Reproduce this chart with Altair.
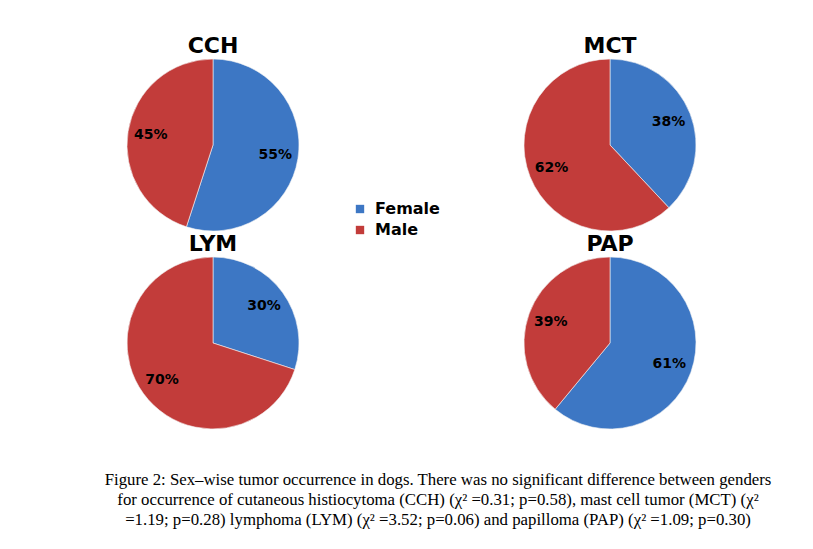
import altair as alt
import pandas as pd

# ---- data ----
tumors = ["CCH", "MCT", "LYM", "PAP"]
female_pct = [55, 38, 30, 61]
male_pct = [45, 62, 70, 39]
panel_col = ["left", "right", "left", "right"]
panel_row = ["top", "top", "bottom", "bottom"]
sexes = ["Female", "Male"]
sex_colors = ["#3d77c4", "#c23c3a"]
caption_lines = [
    "Figure 2: Sex\u2013wise tumor occurrence in dogs. There was no significant difference between genders",
    "for occurrence of cutaneous histiocytoma (CCH) (\u03c7\u00b2 =0.31; p=0.58), mast cell tumor (MCT) (\u03c7\u00b2",
    "=1.19; p=0.28) lymphoma (LYM) (\u03c7\u00b2 =3.52; p=0.06) and papilloma (PAP) (\u03c7\u00b2 =1.09; p=0.30)",
]

recs = []
for t, f, m, c, r in zip(tumors, female_pct, male_pct, panel_col, panel_row):
    recs.append(dict(tumor=t, sex=sexes[0], value=f, col=c, row=r))
    recs.append(dict(tumor=t, sex=sexes[1], value=m, col=c, row=r))
df = pd.DataFrame(recs)
titles_df = pd.DataFrame(dict(tumor=tumors, col=panel_col, row=panel_row))

X = alt.X("col:N", scale=alt.Scale(domain=["left", "right"], range=[205, 602], padding=0), axis=None)
Y = alt.Y("row:N", scale=alt.Scale(domain=["top", "bottom"], range=[137, 335], padding=0), axis=None)

base = (
    alt.Chart(df)
    .transform_window(end="sum(value)", groupby=["tumor"], sort=[alt.SortField("sex")], frame=[None, 0])
    .transform_calculate(start="datum.end - datum.value")
    .transform_calculate(mid="(datum.start + datum.end) / 2", label="datum.value + '%'")
)

arcs = base.mark_arc(radius=86, stroke="#f4f4f4", strokeWidth=0.6).encode(
    x=X,
    y=Y,
    theta=alt.Theta("start:Q", scale=alt.Scale(domain=[0, 100]), stack=None),
    theta2="end:Q",
    color=alt.Color(
        "sex:N",
        scale=alt.Scale(domain=sexes, range=sex_colors),
        legend=alt.Legend(
            title=None,
            orient="none",
            legendX=344,
            legendY=193,
            labelFont="DejaVu Sans",
            labelFontSize=16,
            labelFontWeight="bold",
            labelColor="black",
            symbolType="square",
            symbolSize=70,
            symbolStrokeWidth=0,
            rowPadding=5,
            labelOffset=7,
            padding=0,
        ),
    ),
)

labels = base.mark_text(
    radius=63, font="DejaVu Sans", fontWeight="bold", fontSize=14, color="black"
).encode(
    x=X,
    y=Y,
    theta=alt.Theta("mid:Q", scale=alt.Scale(domain=[0, 100]), stack=None),
    text="label:N",
)

titles = alt.Chart(titles_df).mark_text(
    dy=-99, font="DejaVu Sans", fontWeight="bold", fontSize=22, color="black"
).encode(x=X, y=Y, text="tumor:N")

caption = alt.Chart(alt.Data(values=[{}])).mark_text(
    text=caption_lines,
    font="Liberation Serif",
    fontSize=16.8,
    lineHeight=20,
    align="center",
    baseline="alphabetic",
    color="black",
).encode(x=alt.value(430), y=alt.value(477))

chart = (
    alt.layer(arcs, labels, titles, caption)
    .properties(width=797, height=533, autosize=alt.AutoSizeParams(type="none"), padding=0)
    .configure_view(stroke=None)
)

chart.save("out.html", embed_options={"renderer": "svg", "actions": False})
